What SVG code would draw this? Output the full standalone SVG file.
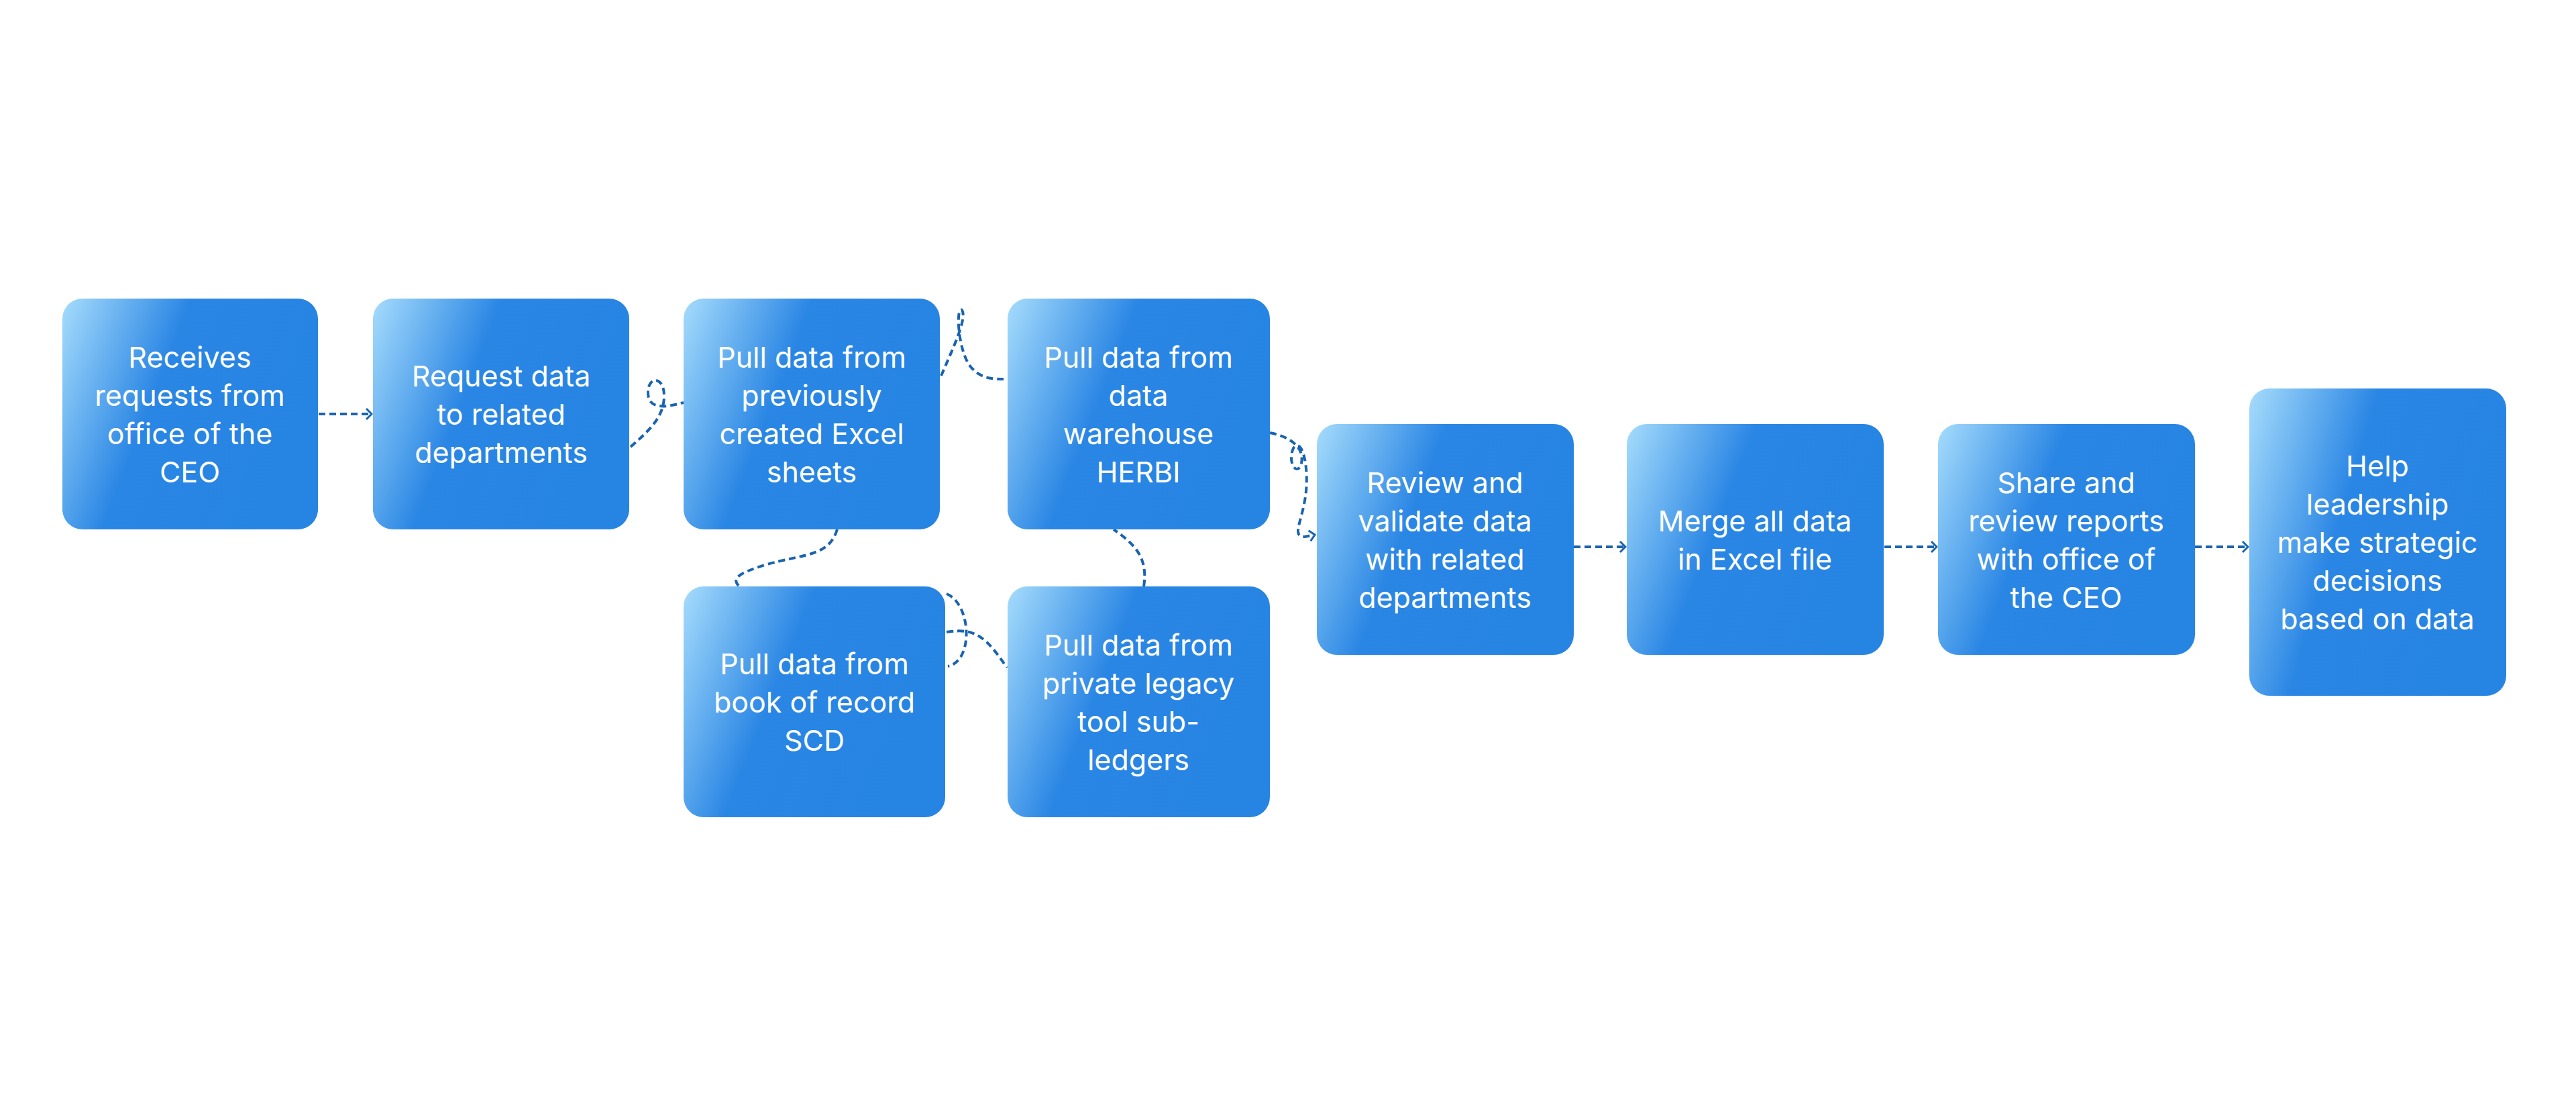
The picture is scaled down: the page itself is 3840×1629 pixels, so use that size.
<svg xmlns="http://www.w3.org/2000/svg" width="3840" height="1629" viewBox="0 0 3840 1629">
<defs>
<linearGradient id="g" x1="0" y1="0" x2="1" y2="0.35">
<stop offset="0" stop-color="#a6dcfc"/>
<stop offset="0.45" stop-color="#2a86e4"/>
<stop offset="1" stop-color="#2684e3"/>
</linearGradient>
<marker id="ah" viewBox="0 0 12 20" refX="10" refY="10" markerWidth="12" markerHeight="20" markerUnits="userSpaceOnUse" orient="auto">
<path d="M2,2 L10,10 L2,18" fill="none" stroke="#1a63b0" stroke-width="3"/>
</marker>
<style>
.n rect{fill:url(#g)}
.n text{font-family:Inter,"Liberation Sans",sans-serif;font-size:43px;fill:#fff;text-anchor:middle}
.c path{fill:none;stroke:#1a63b0;stroke-width:4;stroke-dasharray:10 6}
.c .a{marker-end:url(#ah)}
</style>
</defs>
<rect width="3840" height="1629" fill="#fff"/>
<g class="c">
<path class="a" d="M475,617 L554,617"/>
<path d="M940,666 C970,640 990,620 990,590 C990,560 966,560 966,585 C966,610 990,608 1019,600"/>
<path d="M1403,560 C1420,520 1442,475 1434,462 C1424,455 1428,530 1450,550 C1465,565 1480,565 1501,565"/>
<path d="M1248,789 C1235,830 1200,825 1140,842 C1100,855 1090,862 1102,874"/>
<path d="M1411,885 C1448,900 1452,985 1413,993"/>
<path d="M1411,942 C1455,935 1470,950 1501,995"/>
<path d="M1705,874 C1712,830 1690,810 1660,789"/>
<path class="a" d="M1893,645 C1920,650 1945,665 1940,690 C1935,712 1918,690 1928,668 C1942,650 1952,700 1946,740 C1940,780 1925,800 1945,800 L1960,797"/>
<path class="a" d="M2346,815 L2423,815"/>
<path class="a" d="M2809,815 L2887,815"/>
<path class="a" d="M3272,815 L3351,815"/>
</g>
<g id="n1" class="n"><rect x="93" y="445" width="381" height="344" rx="30"/>
<text x="283" y="548">Receives</text><text x="283" y="605">requests from</text><text x="283" y="662">office of the</text><text x="283" y="719">CEO</text></g>
<g id="n2" class="n"><rect x="556" y="445" width="382" height="344" rx="30"/>
<text x="747" y="576">Request data</text><text x="747" y="633">to related</text><text x="747" y="690">departments</text></g>
<g id="n3" class="n"><rect x="1019" y="445" width="382" height="344" rx="30"/>
<text x="1210" y="548">Pull data from</text><text x="1210" y="605">previously</text><text x="1210" y="662">created Excel</text><text x="1210" y="719">sheets</text></g>
<g id="n4" class="n"><rect x="1502" y="445" width="391" height="344" rx="30"/>
<text x="1697" y="548">Pull data from</text><text x="1697" y="605">data</text><text x="1697" y="662">warehouse</text><text x="1697" y="719">HERBI</text></g>
<g id="n5" class="n"><rect x="1019" y="874" width="390" height="344" rx="30"/>
<text x="1214" y="1005">Pull data from</text><text x="1214" y="1062">book of record</text><text x="1214" y="1119">SCD</text></g>
<g id="n6" class="n"><rect x="1502" y="874" width="391" height="344" rx="30"/>
<text x="1697" y="977">Pull data from</text><text x="1697" y="1034">private legacy</text><text x="1697" y="1091">tool sub-</text><text x="1697" y="1148">ledgers</text></g>
<g id="n7" class="n"><rect x="1963" y="632" width="383" height="344" rx="30"/>
<text x="2154" y="735">Review and</text><text x="2154" y="792">validate data</text><text x="2154" y="849">with related</text><text x="2154" y="906">departments</text></g>
<g id="n8" class="n"><rect x="2425" y="632" width="383" height="344" rx="30"/>
<text x="2616" y="792">Merge all data</text><text x="2616" y="849">in Excel file</text></g>
<g id="n9" class="n"><rect x="2889" y="632" width="383" height="344" rx="30"/>
<text x="3080" y="735">Share and</text><text x="3080" y="792">review reports</text><text x="3080" y="849">with office of</text><text x="3080" y="906">the CEO</text></g>
<g id="n10" class="n"><rect x="3353" y="579" width="383" height="458" rx="30"/>
<text x="3544" y="710">Help</text><text x="3544" y="767">leadership</text><text x="3544" y="824">make strategic</text><text x="3544" y="881">decisions</text><text x="3544" y="938">based on data</text></g>
</svg>
